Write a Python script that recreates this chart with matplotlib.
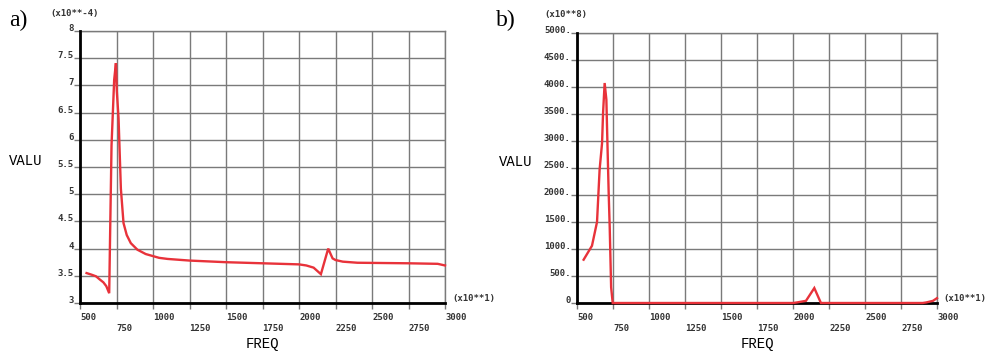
import matplotlib
matplotlib.use("Agg")
import matplotlib.pyplot as plt
from matplotlib.ticker import FixedLocator, FixedFormatter

# ---------------- data ----------------
freq_a = [545, 580, 610, 632, 660, 680, 700, 705, 716, 734, 746, 752, 764, 780, 798,
          820, 848, 893, 950, 1042, 1100, 1250, 1500, 1750, 2000, 2050, 2100, 2150,
          2200, 2230, 2250, 2300, 2400, 2750, 2950, 3000]
val_a = [3.55, 3.52, 3.49, 3.44, 3.38, 3.31, 3.18, 4.05, 5.9, 7.1, 7.41, 6.9, 6.4, 5.1, 4.47,
         4.25, 4.10, 3.98, 3.90, 3.83, 3.81, 3.78, 3.75, 3.73, 3.71, 3.69, 3.65, 3.53,
         4.0, 3.82, 3.79, 3.76, 3.74, 3.73, 3.72, 3.69]

freq_b = [546, 604, 639, 657, 674, 681, 692, 704, 709, 720, 727, 737, 748,
          2000, 2027, 2090, 2148, 2194, 2900, 2925, 2972, 3000]
val_b = [802, 1060, 1500, 2470, 2960, 3520, 4074, 3765, 3209, 2037, 1419, 290, 0,
         0, 10, 40, 277, 0, 0, 10, 40, 90]

x_major = [500, 1000, 1500, 2000, 2500, 3000]
x_minor = [750, 1250, 1750, 2250, 2750]
ya_ticks = [3, 3.5, 4, 4.5, 5, 5.5, 6, 6.5, 7, 7.5, 8]
ya_labels = ["3", "3.5", "4", "4.5", "5", "5.5", "6", "6.5", "7", "7.5", "8"]
yb_ticks = [0, 500, 1000, 1500, 2000, 2500, 3000, 3500, 4000, 4500, 5000]
yb_labels = ["0", "500.", "1000.", "1500.", "2000.", "2500.", "3000.", "3500.", "4000.", "4500.", "5000."]

RED = "#e8323a"
GRID = "#7a7a7a"
TICKC = "#333333"
MONO = "DejaVu Sans Mono"
COUR = "Liberation Mono"
SERIF = "Liberation Serif"

W, H = 990, 353
fig = plt.figure(figsize=(W / 100, H / 100), dpi=100)


def make_ax(l, r, t, b):
    return fig.add_axes([l / W, 1 - b / H, (r - l) / W, (b - t) / H])


def style(ax, freq, val, yticks, ylabels, ylim, yscale_txt, lab_x, lab_xc):
    ax.plot(freq, val, color=RED, lw=1.7, zorder=5, clip_on=False, solid_joinstyle="miter")
    ax.set_xlim(500, 3000)
    ax.set_ylim(*ylim)
    ax.xaxis.set_major_locator(FixedLocator(x_major))
    ax.xaxis.set_minor_locator(FixedLocator(x_minor))
    ax.xaxis.set_major_formatter(FixedFormatter([str(v) for v in x_major]))
    ax.xaxis.set_minor_formatter(FixedFormatter([str(v) for v in x_minor]))
    ax.set_yticks(yticks)
    ax.set_yticklabels(ylabels)
    ax.grid(True, which="both", axis="x", color=GRID, lw=1)
    ax.grid(True, which="major", axis="y", color=GRID, lw=1)
    for s in ["top", "right"]:
        ax.spines[s].set_color(GRID)
        ax.spines[s].set_linewidth(1)
    for s in ["left", "bottom"]:
        ax.spines[s].set_color("black")
        ax.spines[s].set_linewidth(2)
        ax.spines[s].set_zorder(4)
    ax.tick_params(axis="x", which="major", length=4, width=1, color=GRID, pad=3,
                   labelsize=6.5, labelcolor=TICKC)
    ax.tick_params(axis="x", which="minor", length=4, width=1, color=GRID, pad=11,
                   labelsize=6.5, labelcolor=TICKC)
    ax.tick_params(axis="y", length=4, width=1, color=GRID, pad=0.5,
                   labelsize=6.5, labelcolor=TICKC)
    for lbl in ax.get_xticklabels(which="both"):
        lbl.set_horizontalalignment("left")
        lbl.set_fontfamily(MONO)
        lbl.set_fontweight("bold")
    for lbl in ax.get_yticklabels():
        lbl.set_verticalalignment("baseline")
        lbl.set_fontfamily(MONO)
        lbl.set_fontweight("bold")
    ax.set_axisbelow(True)
    ax.set_xlabel("FREQ", fontfamily=COUR, fontsize=10)
    ax.xaxis.set_label_coords(0.5, -0.151)
    ax.xaxis.label.set_verticalalignment("center")
    ax.set_ylabel("VALU", fontfamily=COUR, fontsize=10, rotation=0,
                  va="center", ha="center")
    ax.yaxis.set_label_coords(lab_x, 0.522)
    ax.text(lab_xc[0], lab_xc[1], yscale_txt, transform=ax.transAxes, fontsize=6.5,
            fontfamily=MONO, fontweight="bold", color=TICKC, ha="center", va="center")
    ax.text(1.019, 0.018, "(x10**1)", transform=ax.transAxes, fontsize=6.5,
            fontfamily=MONO, fontweight="bold", color=TICKC, ha="left", va="center")


ax1 = make_ax(80, 445, 31, 303)
style(ax1, freq_a, val_a, ya_ticks, ya_labels, (3, 8), "(x10**-4)", -0.148, (-0.016, 1.066))

ax2 = make_ax(577, 937, 33, 303)
style(ax2, freq_b, val_b, yb_ticks, yb_labels, (0, 5000), "(x10**8)", -0.169, (-0.03, 1.067))

fig.text(9 / W, 1 - 20 / H, "a)", fontfamily=SERIF, fontsize=17, va="center", ha="left")
fig.text(496 / W, 1 - 20 / H, "b)", fontfamily=SERIF, fontsize=17, va="center", ha="left")

fig.savefig("out.png", dpi=100)
